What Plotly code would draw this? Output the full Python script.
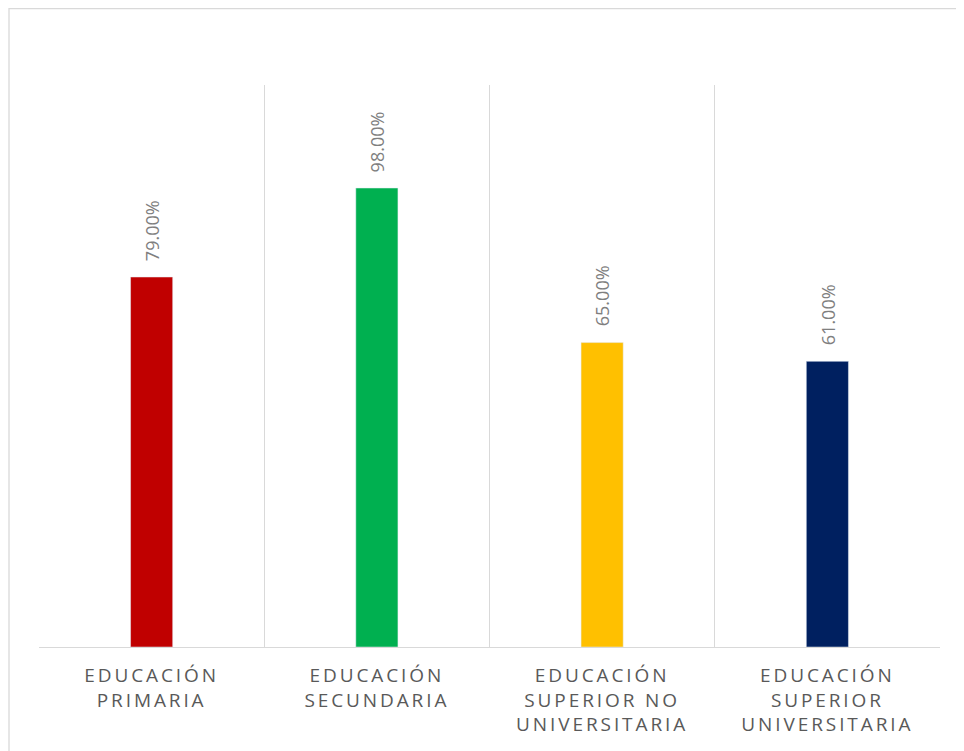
import plotly.graph_objects as go

categories = ["EDUCACIÓN<br>PRIMARIA", "EDUCACIÓN<br>SECUNDARIA",
              "EDUCACIÓN<br>SUPERIOR NO<br>UNIVERSITARIA", "EDUCACIÓN<br>SUPERIOR<br>UNIVERSITARIA"]
values = [0.79, 0.98, 0.65, 0.61]
labels = ["79.00%", "98.00%", "65.00%", "61.00%"]
colors = ["#C00000", "#00B050", "#FFC000", "#002060"]

def spaced(t):
    return "<br>".join('<span style="letter-spacing:2.9px">' + p + '</span>' for p in t.split("<br>"))

tick_text = [spaced(c) for c in categories]

fig = go.Figure()
fig.add_trace(go.Bar(x=categories, y=values, marker_color=colors, width=0.187,
                     hoverinfo="skip", showlegend=False))

for c, v, l in zip(categories, values, labels):
    fig.add_annotation(x=c, y=v, text=l, textangle=-90, showarrow=False,
                       yanchor="bottom", xanchor="center", yshift=14,
                       font=dict(family="Open Sans", size=18, color="#7F7F7F"))

fig.update_xaxes(type="category", tickson="boundaries", showgrid=True, gridcolor="#D9D9D9",
                 gridwidth=1.3, showline=True, linecolor="#D9D9D9", linewidth=1.3,
                 ticks="", tickvals=categories, ticktext=tick_text, ticklabelstandoff=11,
                 tickfont=dict(family="Open Sans", size=19, color="#595959"), fixedrange=True)
fig.update_yaxes(range=[0, 1.2], visible=False, showgrid=False, fixedrange=True)

fig.add_shape(type="rect", xref="paper", yref="paper",
              x0=-30 / 901, x1=1.2, y0=-0.5, y1=(639 - 0.7) / 562,
              line=dict(color="#D9D9D9", width=1.3), fillcolor="rgba(0,0,0,0)", layer="below")

fig.update_layout(width=964, height=751, margin=dict(l=31, r=32, t=77, b=112),
                  paper_bgcolor="white", plot_bgcolor="white", bargap=0.8)

fig.write_html("out.html")
